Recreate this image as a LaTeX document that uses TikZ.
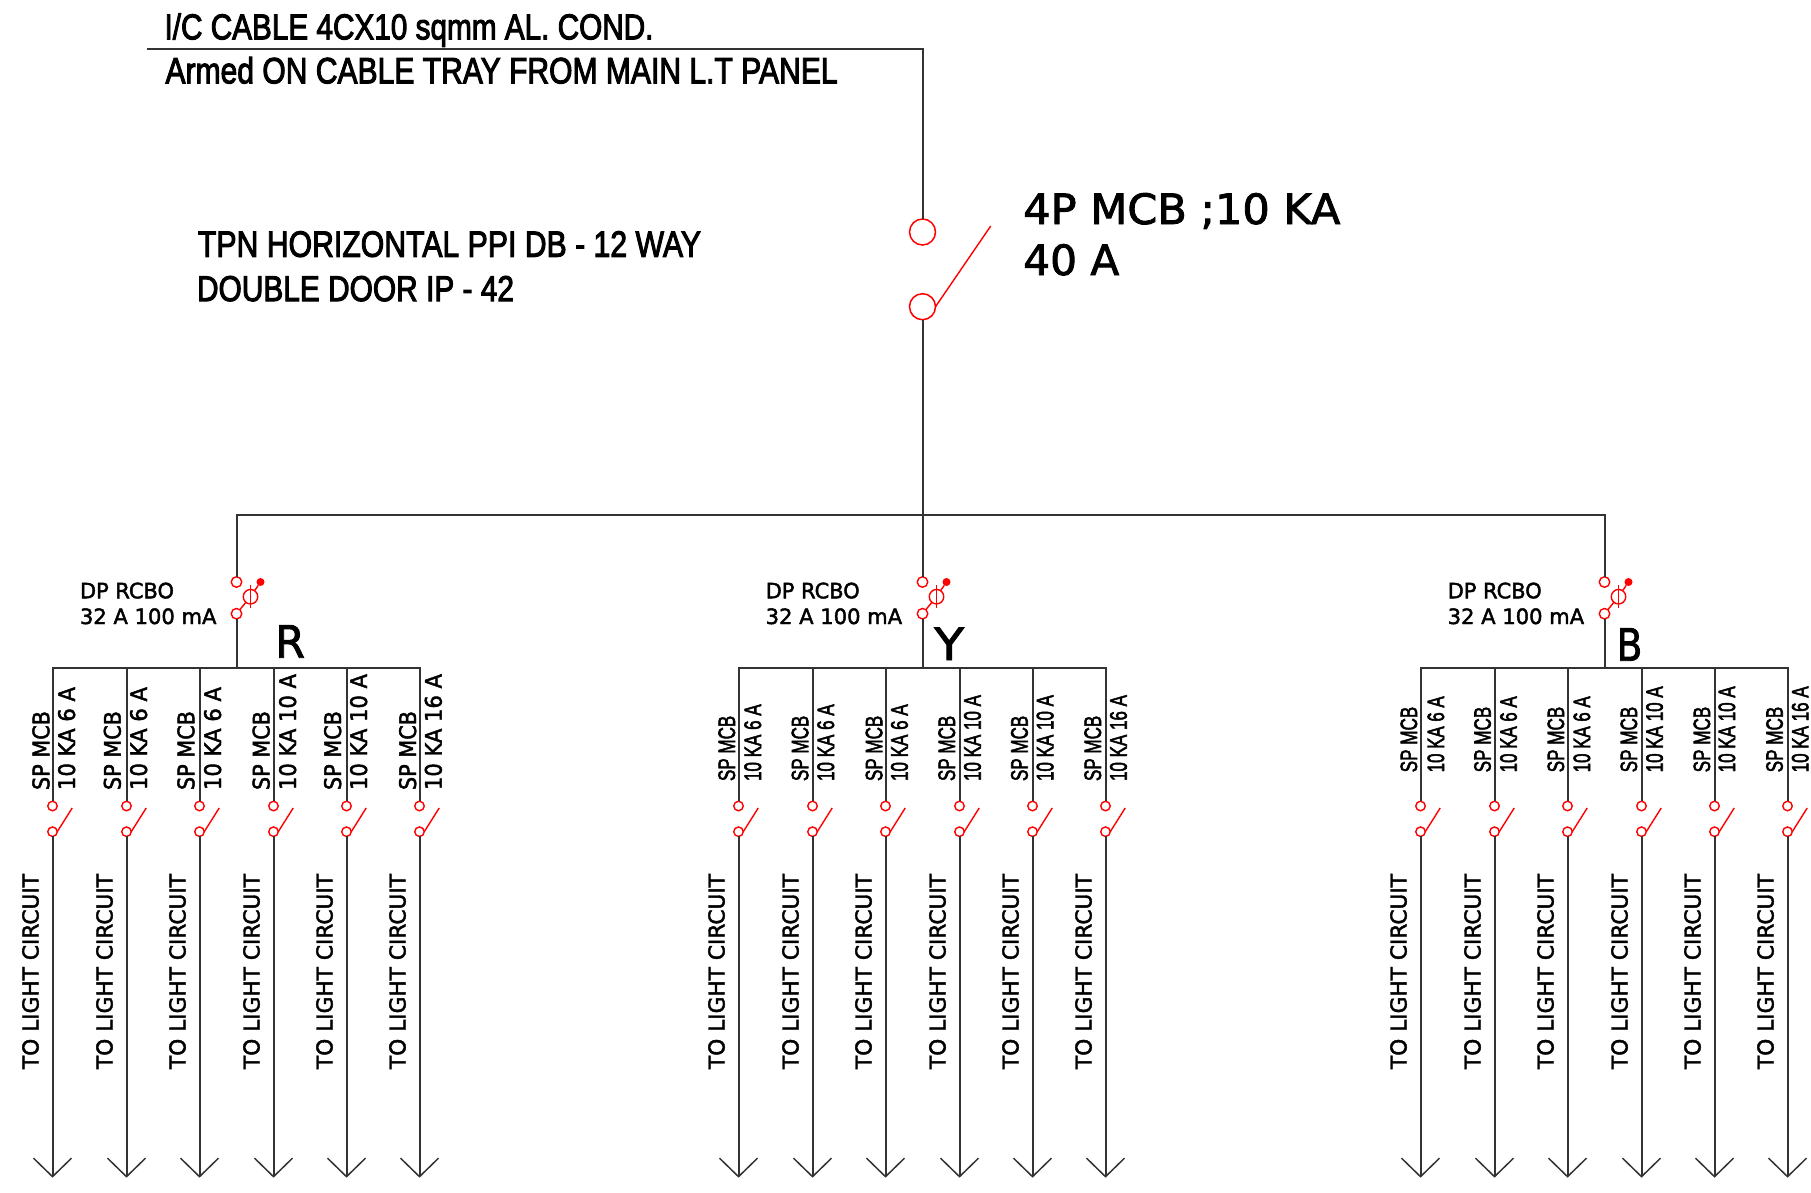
\documentclass[tikz,border=0pt]{standalone}
\usepackage{fontspec}
\usepackage{graphicx}
\setmainfont{DejaVu Sans}
\newfontfamily\arialfont[FakeBold=3]{Liberation Sans}
\newfontfamily\arialmid[FakeBold=2.5]{Liberation Sans}
\newfontfamily\verdfont[FakeBold=2]{DejaVu Sans}
\usetikzlibrary{arrows.meta}
\newcommand{\fitbox}[3]{\resizebox{#1pt}{#2pt}{#3}}
\definecolor{wirec}{HTML}{333333}
\definecolor{redc}{HTML}{FF0000}
\tikzset{
  wire/.style={draw=wirec,line width=2pt},
  feeder/.style={wire,-{Straight Barb[length=18.5pt,width=38pt,line width=1.5pt]}},
  blade/.style={draw=redc,line width=1.4pt},
  bigterm/.style={circle,draw=redc,line width=1.5pt,minimum size=26pt,inner sep=0pt,outer sep=0pt},
  rcboterm/.style={circle,draw=redc,line width=1.4pt,minimum size=10.5pt,inner sep=0pt,outer sep=0pt},
  mcbterm/.style={circle,draw=redc,line width=1.4pt,minimum size=9.5pt,inner sep=0pt,outer sep=0pt},
  sensor/.style={circle,draw=redc,line width=1.4pt,minimum size=14.5pt,inner sep=0pt,outer sep=0pt},
  reddot/.style={circle,fill=redc,minimum size=8pt,inner sep=0pt,outer sep=0pt},
  lab/.style={anchor=base west,inner sep=0pt,outer sep=0pt,text=black,font=\verdfont\fontsize{20}{24}\selectfont},
  arlab/.style={lab,font=\arialfont\fontsize{20}{24}\selectfont},
  vlab/.style={lab,rotate=90},
  varlab/.style={arlab,rotate=90,font=\arialmid\fontsize{20}{24}\selectfont}
}
\begin{document}
\begin{tikzpicture}[x=1pt,y=-1pt]
\useasboundingbox (0,0) rectangle (1811,1192);
% incoming cable text
\node[arlab] (ic1) at (164.5,39.3) {\fitbox{489}{26}{I/C CABLE 4CX10 sqmm AL. COND.}};
\node[arlab] (ic2) at (165.5,83.3) {\fitbox{672}{26.5}{Armed ON CABLE TRAY FROM MAIN L.T PANEL}};
\node[arlab] (db1) at (198,256.7) {\fitbox{503}{25.5}{TPN HORIZONTAL PPI DB - 12 WAY}};
\node[arlab] (db2) at (197,301) {\fitbox{317}{25}{DOUBLE DOOR IP - 42}};
\node[lab] (m1) at (1023.3,224) {\fitbox{317}{31}{4P MCB ;10 KA}};
\node[lab] (m2) at (1023.3,275) {\fitbox{96}{31}{40 A}};
% main MCB
\coordinate (icstart) at (147,48.5);
\coordinate (iccorner) at (922.5,48.5);
\coordinate (busmid) at (922.5,514.5);
\coordinate (mainblade) at (990.7,226);
\node[bigterm] (main-u) at (922.5,232) {};
\node[bigterm] (main-l) at (922.5,306.7) {};
\draw[wire] (icstart) -- (iccorner) -- (main-u);
\draw[wire] (main-l) -- (busmid);
\draw[blade] (main-l.east) -- (mainblade);
% phase groups
\foreach \gid/\cx/\lx/\phx/\phy/\ph/\phw in {r/236.5/80/275.3/657.7/R/29.7,y/922.5/765.7/934.3/660/Y/29.7,b/1604.5/1447.7/1616.7/660.7/B/25.6}{
  \node[rcboterm] (\gid-u) at (\cx,582) {};
  \node[rcboterm] (\gid-l) at (\cx,613.7) {};
  \node[sensor] (\gid-s) at (\cx+14,596.7) {};
  \node[reddot] (\gid-d) at (\cx+24,582) {};
  \coordinate (\gid-st) at (\cx+14,585);
  \coordinate (\gid-sb) at (\cx+14,608.3);
  \draw[blade] (\gid-l) -- (\gid-s);
  \draw[blade] (\gid-s) -- (\gid-d);
  \draw[blade] (\gid-st) -- (\gid-sb);
  \draw[wire] (\gid-u) |- (busmid);
  \coordinate (\gid-bus) at (\cx,667.5);
  \draw[wire] (\gid-l) -- (\gid-bus);
  \node[lab] (\gid-t1) at (\lx,598.3) {\fitbox{94}{15.7}{DP RCBO}};
  \node[lab] (\gid-t2) at (\lx,624) {\fitbox{136.5}{15.7}{32 A 100 mA}};
  \node[lab] (\gid-ph) at (\phx,\phy) {\fitbox{\phw}{32.5}{\ph}};
  \foreach \n/\off in {1/-184,2/-110,3/-37,4/37,5/110,6/183}{
    \node[mcbterm] (\gid-\n-u) at (\cx+\off,806) {};
    \node[mcbterm] (\gid-\n-l) at (\cx+\off,831.7) {};
    \coordinate (\gid-\n-b) at (\cx+\off+19.7,808);
    \coordinate (\gid-\n-e) at (\cx+\off,1177.7);
    \draw[wire] (\gid-\n-u) |- (\gid-bus);
    \draw[blade] (\gid-\n-l.east) -- (\gid-\n-b);
    \draw[feeder] (\gid-\n-l) -- (\gid-\n-e);
    \node[vlab] (\gid-\n-to) at (\cx+\off-14,1069) {\fitbox{195}{16.3}{TO LIGHT CIRCUIT}};
  }
}
% branch ratings
\foreach \n/\a/\b/\w/\t in {1/49.3/75/103/10 KA 6 A,2/120.7/147/103/10 KA 6 A,3/194.3/221/103/10 KA 6 A,4/269.5/296/116/10 KA 10 A,5/341/367/116/10 KA 10 A,6/416/441.7/116/10 KA 16 A}{
  \node[vlab] (r-\n-sp) at (\a,790) {\fitbox{79}{17}{SP MCB}};
  \node[vlab] (r-\n-ka) at (\b,790) {\fitbox{\w}{17}{\t}};
}
\foreach \n/\a/\b/\w/\t in {1/735/761/76.7/10 KA 6 A,2/808.3/834/76.7/10 KA 6 A,3/882.3/907.7/76.7/10 KA 6 A,4/955/980.7/86/10 KA 10 A,5/1027.7/1053.3/86/10 KA 10 A,6/1101/1126.7/86/10 KA 16 A}{
  \node[varlab] (y-\n-sp) at (\a,781) {\fitbox{65.3}{16.7}{SP MCB}};
  \node[varlab] (y-\n-ka) at (\b,781) {\fitbox{\w}{16.7}{\t}};
}
\foreach \n/\a/\b/\w/\t in {1/1417/1444/76/10 KA 6 A,2/1490.7/1516.7/76/10 KA 6 A,3/1564/1590/76/10 KA 6 A,4/1637/1662.7/86/10 KA 10 A,5/1710/1735/86/10 KA 10 A,6/1782.7/1808.3/86/10 KA 16 A}{
  \node[varlab] (b-\n-sp) at (\a,772.3) {\fitbox{65.6}{16.5}{SP MCB}};
  \node[varlab] (b-\n-ka) at (\b,772.3) {\fitbox{\w}{16.5}{\t}};
}
\end{tikzpicture}
\end{document}
